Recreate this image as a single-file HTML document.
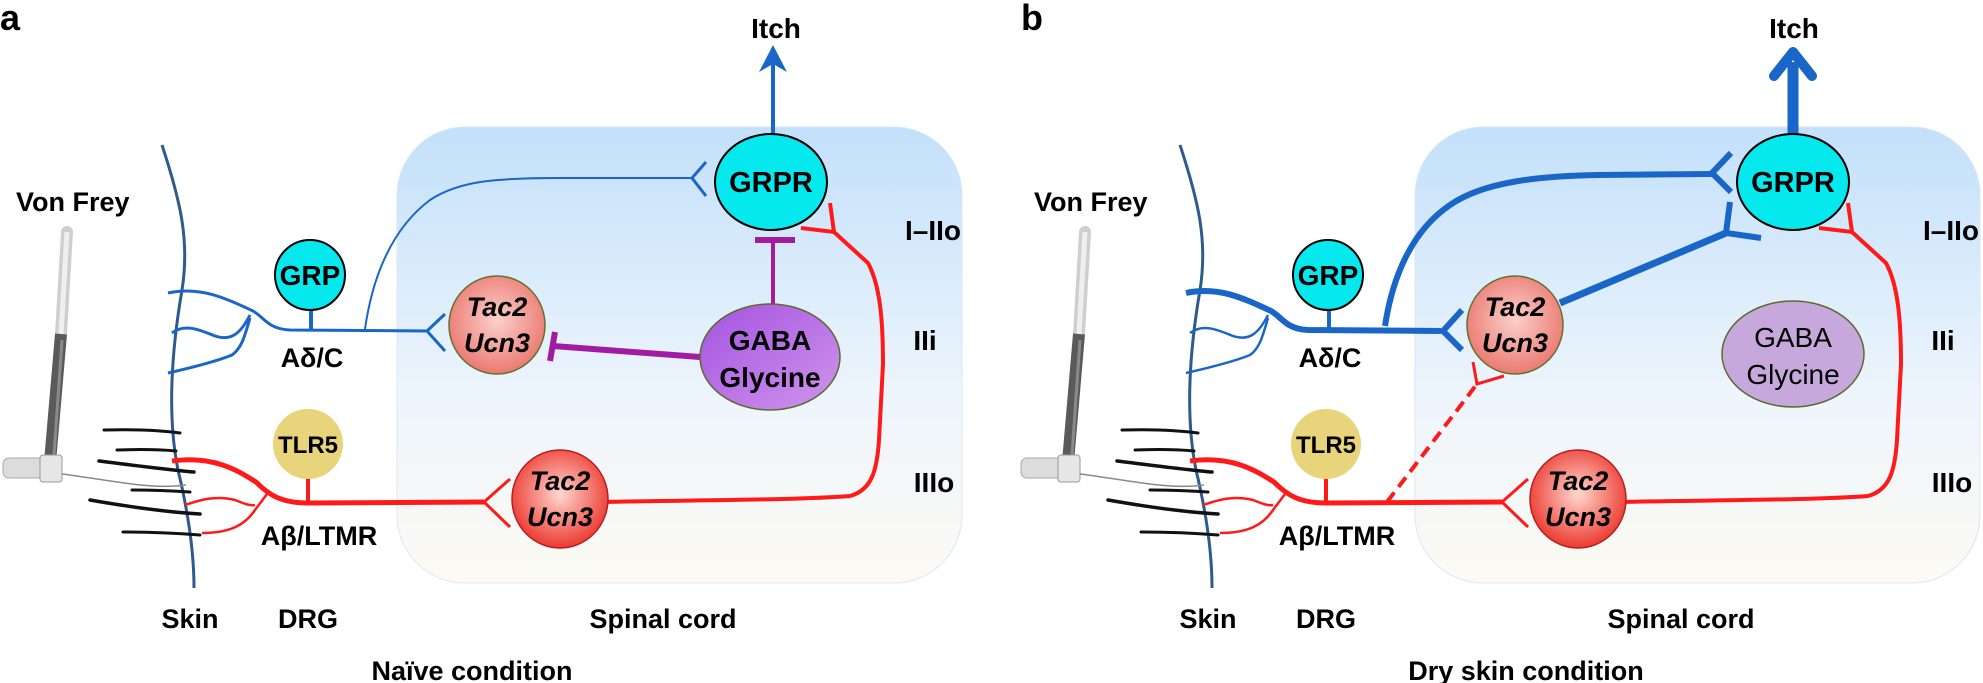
<!DOCTYPE html>
<html><head><meta charset="utf-8"><style>
html,body{margin:0;padding:0;background:#fff;}
svg{display:block;}
text{font-family:"Liberation Sans",Arial,sans-serif;font-weight:bold;fill:#000;}
</style></head><body>
<svg width="1983" height="683" viewBox="0 0 1983 683" xmlns="http://www.w3.org/2000/svg">
<defs>
<linearGradient id="box" x1="0" y1="0" x2="0" y2="1">
<stop offset="0" stop-color="#c3e0fa"/><stop offset="0.6" stop-color="#eef5fc"/><stop offset="1" stop-color="#fcfaf3"/>
</linearGradient>
<radialGradient id="sal" cx="0.5" cy="0.45" r="0.55">
<stop offset="0" stop-color="#fbd0ca"/><stop offset="1" stop-color="#ea7a72"/>
</radialGradient>
<radialGradient id="red" cx="0.5" cy="0.45" r="0.55">
<stop offset="0" stop-color="#ffd8d0"/><stop offset="1" stop-color="#ec3a30"/>
</radialGradient>
<linearGradient id="pur" x1="0" y1="0" x2="1" y2="1">
<stop offset="0" stop-color="#a552e0"/><stop offset="1" stop-color="#cf95ec"/>
</linearGradient>
<g id="common">
  <rect x="397" y="127" width="565" height="456" rx="68" fill="url(#box)" stroke="#d8e8f6" stroke-width="1"/>
  <path d="M162,145 C180,200 190,240 182,290 C170,360 168,420 178,470 C190,520 194,560 194,588" fill="none" stroke="#2f5a8c" stroke-width="3"/>
  <line x1="67" y1="232" x2="61" y2="334" stroke="#cfcfcf" stroke-width="12" stroke-linecap="round"/>
  <line x1="67" y1="232" x2="61" y2="334" stroke="#efefef" stroke-width="5"/>
  <line x1="61" y1="334" x2="50" y2="462" stroke="#5a5a5a" stroke-width="12"/>
  <line x1="62" y1="340" x2="54" y2="455" stroke="#8a8a8a" stroke-width="3"/>
  <rect x="3" y="458" width="58" height="20" rx="6" fill="#dcdcdc" stroke="#aaa"/>
  <rect x="40" y="455" width="22" height="27" rx="3" fill="#e6e6e6" stroke="#999"/>
  <path d="M62,474 C110,480 150,490 186,485" fill="none" stroke="#888" stroke-width="1.5"/>
  <g stroke="#111" fill="none" stroke-linecap="round">
    <path d="M104,430 C140,429 165,431 180,433" stroke-width="3"/>
    <path d="M117,450 C145,449 165,450 176,451" stroke-width="3"/>
    <path d="M99,461 C140,466 170,470 194,472" stroke-width="3.5"/>
    <path d="M132,490 C155,490 175,491 190,492" stroke-width="3"/>
    <path d="M90,500 C130,507 165,512 200,514" stroke-width="3.5"/>
    <path d="M123,532 C150,532 175,533 200,535" stroke-width="3"/>
  </g>
  <text x="16" y="211" font-size="27">Von Frey</text>
  <text x="312" y="367" font-size="27" text-anchor="middle">Aδ/C</text>
  <text x="319" y="545" font-size="27" text-anchor="middle">Aβ/LTMR</text>
  <text x="190" y="628" font-size="27" text-anchor="middle">Skin</text>
  <text x="308" y="628" font-size="27" text-anchor="middle">DRG</text>
  <text x="663" y="628" font-size="27" text-anchor="middle">Spinal cord</text>
  <text x="933" y="240" font-size="28" text-anchor="middle">I–IIo</text>
  <text x="925" y="350" font-size="28" text-anchor="middle">IIi</text>
  <text x="934" y="492" font-size="28" text-anchor="middle">IIIo</text>
  <text x="776" y="38" font-size="28" text-anchor="middle">Itch</text>
  <line x1="308" y1="478" x2="308" y2="505" stroke="#ff1a1a" stroke-width="4"/>
  <circle cx="308" cy="444" r="35" fill="#e8d47a"/>
  <text x="308" y="453" font-size="24" text-anchor="middle">TLR5</text>
  <line x1="311" y1="305" x2="311" y2="330" stroke="#1a66c8" stroke-width="4"/>
  <circle cx="310" cy="275" r="35" fill="#05e8ee" stroke="#000" stroke-width="2"/>
  <text x="310" y="285" font-size="28" text-anchor="middle">GRP</text>
  <path d="M172,461 C215,455 240,472 256,482 C268,494 280,503 308,503 L484,502" fill="none" stroke="#ff1a1a" stroke-width="5"/>
  <path d="M185,505 C200,500 215,495 235,500 C245,504 250,506 255,505" fill="none" stroke="#ff1a1a" stroke-width="2.5"/>
  <path d="M202,533 C230,533 245,525 255,510 L267,494" fill="none" stroke="#ff1a1a" stroke-width="2.5"/>
  <path d="M510,479 L484,502 L510,527" fill="none" stroke="#ff1a1a" stroke-width="3"/>
  <path d="M600,502 C700,500 800,500 850,496 C872,490 877,470 879,440 L883,364 C883,320 880,285 868,263 L834,232" fill="none" stroke="#ff1a1a" stroke-width="4"/>
  <path d="M830,203 L834,232 L801,228" fill="none" stroke="#ff1a1a" stroke-width="4"/>
  <ellipse cx="560" cy="499" rx="48" ry="49" fill="url(#red)" stroke="#b52020" stroke-width="1.5"/>
  <text x="560" y="490" font-size="27" font-style="italic" text-anchor="middle">Tac2</text>
  <text x="560" y="526" font-size="27" font-style="italic" text-anchor="middle">Ucn3</text>
</g>
</defs>

<text x="0" y="30" font-size="36">a</text>
<use href="#common"/>
<line x1="773" y1="134" x2="773" y2="60" stroke="#1a66c8" stroke-width="4"/>
<path d="M773,45 L787,72 L773,64 L759,72 Z" fill="#1a66c8"/>
<path d="M168,293 C200,286 225,298 253,311 C265,318 268,329 290,330 L426,331" fill="none" stroke="#1a66c8" stroke-width="3"/>
<path d="M172,333 C185,323 200,330 215,336 C230,341 240,335 250,315" fill="none" stroke="#1a66c8" stroke-width="3"/>
<path d="M168,373 C190,368 215,362 232,355 C242,348 245,335 250,318" fill="none" stroke="#1a66c8" stroke-width="3"/>
<path d="M445,314 L427,331 L445,351" fill="none" stroke="#1a66c8" stroke-width="3"/>
<path d="M365,329 C372,280 390,230 430,200 C460,180 500,178 560,178 L692,178" fill="none" stroke="#1a66c8" stroke-width="2"/>
<path d="M706,162 L692,178 L706,196" fill="none" stroke="#1a66c8" stroke-width="3"/>
<line x1="773" y1="305" x2="773" y2="240" stroke="#a01ca0" stroke-width="4"/>
<line x1="755" y1="240" x2="795" y2="240" stroke="#a01ca0" stroke-width="6"/>
<line x1="700" y1="357" x2="553" y2="346" stroke="#a01ca0" stroke-width="6"/>
<line x1="555" y1="332" x2="550" y2="361" stroke="#a01ca0" stroke-width="6"/>
<ellipse cx="771" cy="182" rx="56" ry="48" fill="#05e8ee" stroke="#000" stroke-width="2"/>
<text x="771" y="192" font-size="29" text-anchor="middle">GRPR</text>
<ellipse cx="497" cy="325" rx="48" ry="49" fill="url(#sal)" stroke="#66702e" stroke-width="1.5"/>
<text x="497" y="316" font-size="27" font-style="italic" text-anchor="middle">Tac2</text>
<text x="497" y="352" font-size="27" font-style="italic" text-anchor="middle">Ucn3</text>
<ellipse cx="770" cy="357" rx="70" ry="53" fill="url(#pur)" stroke="#5f6a2e" stroke-width="1.5"/>
<text x="770" y="350" font-size="28" text-anchor="middle">GABA</text>
<text x="770" y="387" font-size="28" text-anchor="middle">Glycine</text>
<text x="472" y="680" font-size="27" text-anchor="middle">Naïve condition</text>

<text x="1021" y="30" font-size="36">b</text>
<g transform="translate(1018,0)">
<use href="#common"/>
<line x1="775" y1="134" x2="775" y2="62" stroke="#1a66c8" stroke-width="11"/>
<path d="M756,76 L775,52 L794,76" fill="none" stroke="#1a66c8" stroke-width="10" stroke-linecap="round" stroke-linejoin="round"/>
<path d="M168,293 C200,286 225,298 253,311 C265,318 268,329 290,330 L423,331" fill="none" stroke="#1a66c8" stroke-width="6"/>
<path d="M172,333 C185,323 200,330 215,336 C230,341 240,335 250,315" fill="none" stroke="#1a66c8" stroke-width="2.5"/>
<path d="M168,373 C190,368 215,362 232,355 C242,348 245,335 250,318" fill="none" stroke="#1a66c8" stroke-width="2.5"/>
<path d="M444,310 L425,331 L444,350" fill="none" stroke="#1a66c8" stroke-width="6"/>
<path d="M367,326 C374,280 392,232 432,205 C465,182 520,176 580,175 L694,174" fill="none" stroke="#1a66c8" stroke-width="6"/>
<path d="M713,153 L694,173 L713,192" fill="none" stroke="#1a66c8" stroke-width="6"/>
<line x1="542" y1="303" x2="708" y2="233" stroke="#1a66c8" stroke-width="7"/>
<path d="M712,202 L708,233 L743,238" fill="none" stroke="#1a66c8" stroke-width="6"/>
<line x1="369" y1="502" x2="459" y2="384" stroke="#ff1a1a" stroke-width="4" stroke-dasharray="12,7"/>
<path d="M455,362 L459,384 L486,376" fill="none" stroke="#ff1a1a" stroke-width="3"/>
<ellipse cx="775" cy="182" rx="56" ry="48" fill="#05e8ee" stroke="#000" stroke-width="2"/>
<text x="775" y="192" font-size="29" text-anchor="middle">GRPR</text>
<ellipse cx="497" cy="325" rx="48" ry="49" fill="url(#sal)" stroke="#66702e" stroke-width="1.5"/>
<text x="497" y="316" font-size="27" font-style="italic" text-anchor="middle">Tac2</text>
<text x="497" y="352" font-size="27" font-style="italic" text-anchor="middle">Ucn3</text>
<ellipse cx="775" cy="354" rx="71" ry="53" fill="#c7a8dc" stroke="#5f6a2e" stroke-width="1.5"/>
<text x="775" y="347" font-size="28" style="font-weight:normal" fill="#222" text-anchor="middle">GABA</text>
<text x="775" y="384" font-size="28" style="font-weight:normal" fill="#222" text-anchor="middle">Glycine</text>
<text x="508" y="680" font-size="27" text-anchor="middle">Dry skin condition</text>
</g>
</svg>
</body></html>
